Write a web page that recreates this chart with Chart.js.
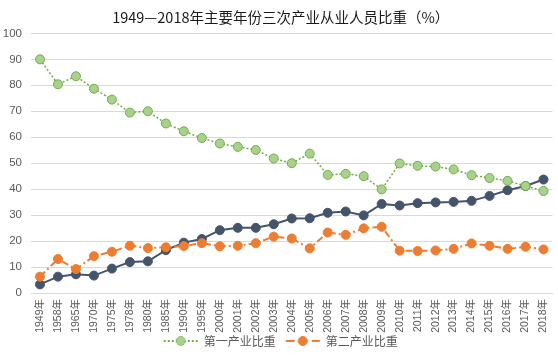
<!DOCTYPE html>
<html>
<head>
<meta charset="utf-8">
<script src="https://cdn.jsdelivr.net/npm/chart.js@4"></script>
<style>
html,body{margin:0;padding:0;background:#fff;}
#wrap{width:558px;height:357px;}
</style>
</head>
<body>
<div id="wrap"><canvas id="c" width="558" height="357"></canvas></div>
<script>
const chartTitle = "1949—2018年主要年份三次产业从业人员比重（%）";
const categories = ["1949年","1958年","1965年","1970年","1975年","1978年","1980年","1985年","1990年","1995年","2000年","2001年","2002年","2003年","2004年","2005年","2006年","2007年","2008年","2009年","2010年","2011年","2012年","2013年","2014年","2015年","2016年","2017年","2018年"];
const seriesNames = ["第一产业比重","第二产业比重","第三产业比重"];
const primary = [90.0,80.4,83.5,78.7,74.5,69.5,70.0,65.3,62.3,59.7,57.6,56.3,55.1,51.8,50.0,53.7,45.5,45.9,45.0,39.9,49.9,49.0,48.7,47.6,45.4,44.3,43.2,41.2,39.3];
const secondary = [6.3,13.1,9.2,14.2,15.9,18.2,17.3,17.6,18.1,19.2,18.0,18.2,19.2,21.7,21.0,17.2,23.3,22.4,24.9,25.5,16.3,16.2,16.4,17.0,19.1,18.2,17.0,17.8,16.8];
const tertiary = [3.3,6.3,7.2,6.7,9.4,11.9,12.2,16.5,19.4,20.8,24.2,25.1,25.1,26.5,28.7,28.8,30.9,31.4,29.9,34.3,33.7,34.6,34.9,35.1,35.5,37.4,39.6,41.2,43.7];
const yTicks = [0,10,20,30,40,50,60,70,80,90,100];

function legendIcon(color, fill, dash, dotBorderDash) {
  const cv = document.createElement('canvas');
  cv.width = 36; cv.height = 12;
  const g = cv.getContext('2d');
  g.strokeStyle = color; g.lineWidth = 2; g.setLineDash(dash);
  g.beginPath(); g.moveTo(1,6); g.lineTo(35,6); g.stroke();
  g.setLineDash(dotBorderDash || []);
  g.lineWidth = 1;
  g.fillStyle = fill;
  g.beginPath(); g.arc(18,6,4.5,0,Math.PI*2); g.fill(); g.stroke();
  return cv;
}
const icons = [
  legendIcon('#70ad47','#a9d18e',[2,2],[2,1]),
  legendIcon('#ed7d31','#ed7d31',[9,4],[])
];

const legendShift = {
  id:'legendShift',
  afterLayout(chart){ if(chart.legend){ chart.legend.top -= 9; chart.legend.bottom -= 9; } }
};

new Chart(document.getElementById('c'), {
  type: 'line',
  plugins:[legendShift],
  data: {
    labels: categories,
    datasets: [
      {label: seriesNames[0], data: primary, borderColor:'#70ad47', backgroundColor:'#a9d18e', borderWidth:1.5, borderDash:[2,2],
       pointRadius:4.5, pointBorderWidth:1, pointBorderColor:'#70ad47', pointBackgroundColor:'#a9d18e', tension:0},
      {label: seriesNames[1], data: secondary, borderColor:'#ed7d31', backgroundColor:'#ed7d31', borderWidth:2, borderDash:[7,3,2,3],
       pointRadius:4.5, pointBorderWidth:1, pointBackgroundColor:'#ed7d31', pointBorderColor:'#ed7d31', tension:0},
      {label: seriesNames[2], data: tertiary, borderColor:'#44546a', backgroundColor:'#44546a', borderWidth:2,
       pointRadius:4.5, pointBorderWidth:1, pointBackgroundColor:'#44546a', pointBorderColor:'#44546a', tension:0}
    ]
  },
  options: {
    responsive:false, animation:false, devicePixelRatio:1,
    layout:{padding:{left:0,right:-3.5,top:0,bottom:0}},
    plugins:{
      title:{display:true, text:chartTitle, color:'#1a1a1a', font:{family:'"Noto Sans CJK SC", sans-serif', size:14.5, weight:'normal'}, padding:{top:9,bottom:7}},
      legend:{display:true, position:'bottom', maxHeight:23,
        labels:{usePointStyle:true, pointStyleWidth:34, color:'#595959', font:{family:'"Noto Sans CJK SC", sans-serif', size:12}, padding:10,
          generateLabels:(chart)=>{
            const items = Chart.defaults.plugins.legend.labels.generateLabels(chart);
            return items.filter(it=>it.datasetIndex<2).map(it=>{it.pointStyle=icons[it.datasetIndex]; return it;});
          }}},
      tooltip:{enabled:false}
    },
    scales:{
      x:{offset:true, grid:{display:false, drawTicks:false}, border:{display:true,color:'#d9d9d9'},
         ticks:{color:'#595959', font:{family:'"Liberation Sans","Noto Sans CJK SC", sans-serif', size:10.5}, maxRotation:90, minRotation:90, autoSkip:false, padding:6},
         afterFit:(s)=>{s.height=41; s.paddingRight=0; s.paddingLeft=0;}},
      y:{min:0,max:100, afterBuildTicks:(s)=>{s.ticks=yTicks.map(v=>({value:v}));},
         grid:{color:'#d9d9d9', drawTicks:false}, border:{display:false},
         ticks:{color:'#595959', font:{family:'"Liberation Sans", sans-serif', size:11.5}, padding:9},
         afterFit:(s)=>{s.width=31;}}
    }
  }
});
</script>
</body>
</html>
